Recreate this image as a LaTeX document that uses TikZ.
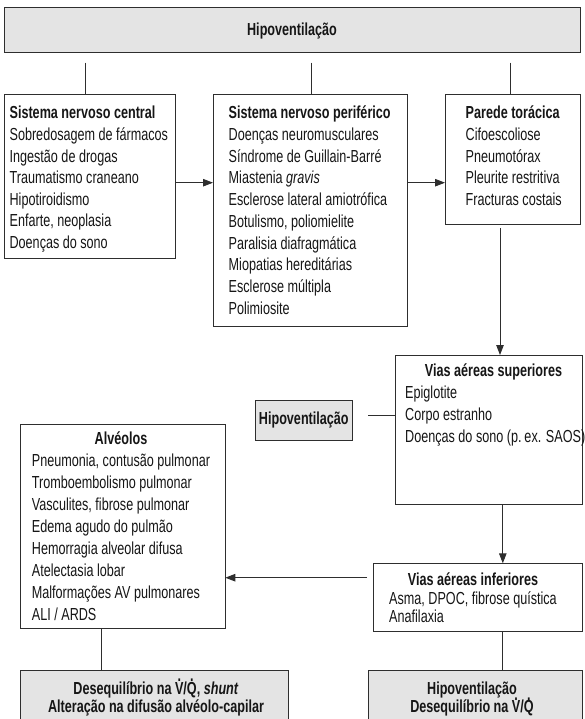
\documentclass[tikz,border=0pt]{standalone}
\usepackage{fontspec}
\setmainfont{Liberation Sans}[FakeStretch=0.725]
\usetikzlibrary{arrows.meta}
\definecolor{boxgray}{HTML}{E4E4E4}
\definecolor{linec}{HTML}{2E2E2E}
\definecolor{textc}{HTML}{161616}
\newcommand\fs{\fontsize{17.4}{21.7}\selectfont}
\newcommand\dotacc[1]{\leavevmode\setbox0\hbox{#1}\rlap{\hbox to\wd0{\hss\raisebox{0.74em}{.}\hss}}\box0}
\newcommand\VQ{\dotacc{V}/\dotacc{Q}}
\newcommand\boxat[6]{\node[#6, minimum width={#4pt-#2pt}, minimum height={#5pt-#3pt}] (#1) at (#2,#3) {};}
\newcommand\tlines[5]{\foreach \t [count=\i from 0] in {#5} {\node[txt] (#1-\i) at (#2,{#3+\i*#4}) {\t};}}
\tikzset{
  box/.style={draw=linec, line width=1pt, fill=white, inner sep=0pt, outer sep=0pt, anchor=north west},
  graybox/.style={box, fill=boxgray},
  txt/.style={inner sep=0pt, anchor=base west, font=\fs, text=textc},
  ctxt/.style={txt, anchor=base},
  ln/.style={draw=linec, line width=0.9pt},
  arr/.style={ln, -{Triangle[length=10pt,width=7.5pt]}},
}
\begin{document}
\begin{tikzpicture}[x=1pt,y=-1pt]
\useasboundingbox (0,0) rectangle (584,719);
% boxes
\boxat{top}{4.5}{7.3}{580}{52.3}{graybox}
\boxat{snc}{4.5}{94.3}{175.5}{258.3}{box}
\boxat{snp}{213}{94.3}{407.5}{326}{box}
\boxat{par}{445}{94.3}{580.5}{224}{box}
\boxat{vsup}{395}{355}{582.5}{504.3}{box}
\boxat{hipo}{255.5}{400}{352}{440}{graybox}
\boxat{alv}{20.5}{424.3}{225.3}{628.7}{box}
\boxat{vinf}{373.5}{563.3}{582.5}{631}{box}
\boxat{bL}{20.5}{670.7}{288.3}{730}{graybox}
\boxat{bR}{368.7}{670.7}{582.5}{730}{graybox}
% texts
\node[ctxt, font=\fs\bfseries] (topt) at (292,36) {Hipoventilação};
\node[ctxt, font=\fs\bfseries] (hipot) at (303.8,424.2) {Hipoventilação};
\tlines{sncl}{9.4}{118.9}{21.6}{{\textbf{Sistema nervoso central}},{Sobredosagem de fármacos},{Ingestão de drogas},{Traumatismo craneano},{Hipotiroidismo},{Enfarte, neoplasia},{Doenças do sono}}
\tlines{snpl}{228.5}{118.9}{21.7}{{\textbf{Sistema nervoso periférico}},{Doenças neuromusculares},{Síndrome de Guillain-Barré},{Miastenia \textit{gravis}},{Esclerose lateral amiotrófica},{Botulismo, poliomielite},{Paralisia diafragmática},{Miopatias hereditárias},{Esclerose múltipla},{Polimiosite}}
\tlines{parl}{465.5}{118.9}{21.7}{{\textbf{Parede torácica}},{Cifoescoliose},{Pneumotórax},{Pleurite restritiva},{Fracturas costais}}
\node[ctxt, font=\fs\bfseries] (vsupt) at (493.5,376.9) {Vias aéreas superiores};
\tlines{vsupl}{405}{398.6}{21.7}{{Epiglotite},{Corpo estranho},{Doenças do sono (p.\,ex. SAOS)}}
\node[ctxt, font=\fs\bfseries] (alvt) at (121,444.9) {Alvéolos};
\tlines{alvl}{31.7}{466.8}{21.9}{{Pneumonia, contusão pulmonar},{Tromboembolismo pulmonar},{Vasculites, fibrose pulmonar},{Edema agudo do pulmão},{Hemorragia alveolar difusa},{Atelectasia lobar},{Malformações AV pulmonares},{ALI / ARDS}}
\node[ctxt, font=\fs\bfseries] (vinft) at (473,585.5) {Vias aéreas inferiores};
\tlines{vinfl}{389}{604.2}{18.7}{{Asma, DPOC, fibrose quística},{Anafilaxia}}
\node[ctxt, font=\fs\bfseries] (bLt1) at (156,694.5) {Desequilíbrio na \VQ, \textit{shunt}};
\node[ctxt, font=\fs\bfseries] (bLt2) at (156,712.9) {Alteração na difusão alvéolo-capilar};
\node[ctxt, font=\fs\bfseries] (bRt1) at (472,694.5) {Hipoventilação};
\node[ctxt, font=\fs\bfseries] (bRt2) at (472,712.9) {Desequilíbrio na \VQ};
% connectors
\coordinate (g1) at (85.4,62.7);
\coordinate (g2) at (311,62.7);
\coordinate (g3) at (510,62.7);
\draw[ln] (g1) -- (g1 |- snc.north);
\draw[ln] (g2) -- (g2 |- snp.north);
\draw[ln] (g3) -- (g3 |- par.north);
\coordinate (a1) at (0,182.7);
\draw[arr] (snc.east |- a1) -- (snp.west |- a1);
\draw[arr] (snp.east |- a1) -- (par.west |- a1);
\coordinate (g4) at (500,228);
\draw[arr] (g4) -- (g4 |- vsup.north);
\coordinate (c5) at (502.8,0);
\draw[arr] (vsup.south -| c5) -- (vinf.north -| c5);
\draw[ln] (vinf.south -| c5) -- (bR.north -| c5);
\coordinate (g6) at (367,577.7);
\draw[arr] (g6) -- (g6 -| alv.east);
\coordinate (c7) at (101,0);
\draw[ln] (alv.south -| c7) -- (bL.north -| c7);
\coordinate (g8) at (368,415);
\draw[ln] (g8) -- (g8 -| vsup.west);
\end{tikzpicture}
\end{document}
